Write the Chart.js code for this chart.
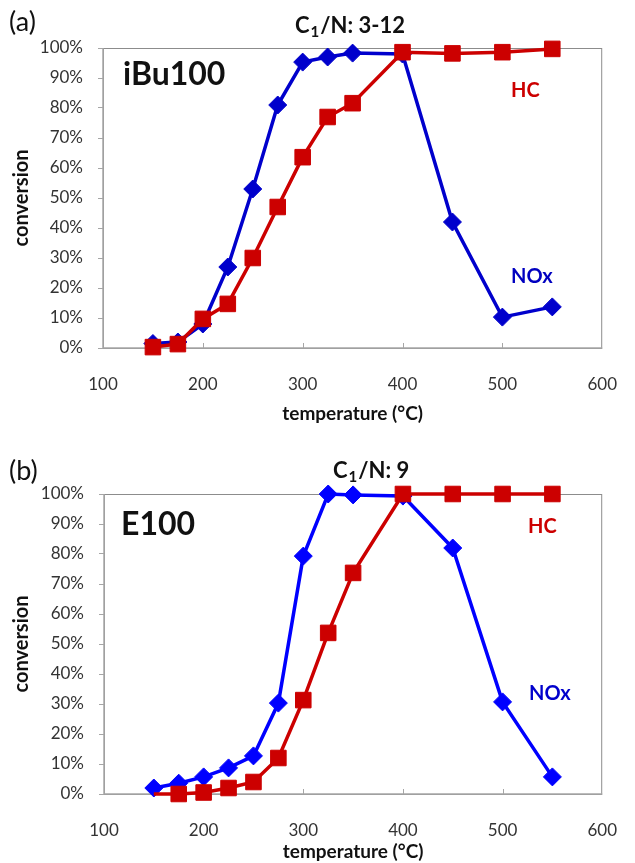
<!DOCTYPE html>
<html>
<head>
<meta charset="utf-8">
<script src="https://cdn.jsdelivr.net/npm/chart.js@4.4.1/dist/chart.umd.min.js"></script>
<style>
  html, body { margin: 0; padding: 0; background: #fff; }
  .panel { position: absolute; left: 0; width: 635px; }
  #panelA { top: 0; height: 425px; }
  #panelB { top: 430px; height: 433px; }
</style>
</head>
<body>
<div class="panel" id="panelA"><canvas id="chartA"></canvas></div>
<div class="panel" id="panelB"><canvas id="chartB"></canvas></div>
<script>
// temperatures (°C) and conversion (%)
const temps = [150, 175, 200, 225, 250, 275, 300, 325, 350, 400, 450, 500, 550];

// (a) iBu100
const noxA = [1.5, 2, 8, 27, 53, 81, 95.3, 97, 98.3, 98, 42, 10.3, 13.7];
const hcA  = [0.3, 1.3, 9.7, 14.7, 30, 47, 63.6, 77, 81.6, 98.6, 98.2, 98.6, 99.7];

// (b) E100
const noxB = [2, 3.6, 5.7, 8.7, 12.7, 30.3, 79.3, 100, 99.7, 99.3, 82, 30.7, 5.7];
const hcB  = [0, 0, 0.5, 2, 4, 12, 31.3, 53.7, 73.7, 100, 100, 100, 100];

const xTicks = [100, 200, 300, 400, 500, 600];
const yTicks = [0, 10, 20, 30, 40, 50, 60, 70, 80, 90, 100];

const RED = '#cc0000';
const FONT = 'Lato';

// frame, inward x ticks and the text annotations
const decor = {
  id: 'decor',
  beforeDatasetsDraw(chart, args, o) {
    const {ctx, chartArea: a} = chart;
    const x = chart.scales.x;
    ctx.save();
    ctx.strokeStyle = '#8c8c8c';
    ctx.lineWidth = 1;
    ctx.strokeRect(a.left + 0.5, a.top + 0.5, a.right - a.left - 1, a.bottom - a.top);
    ctx.strokeStyle = '#a6a6a6';
    ctx.lineWidth = 1.5;
    ctx.beginPath();
    ctx.moveTo(a.left, a.top);
    ctx.lineTo(a.left, a.bottom);
    ctx.lineTo(a.right, a.bottom);
    ctx.stroke();
    ctx.lineWidth = 1;
    xTicks.slice(1, -1).forEach(v => {
      const px = Math.round(x.getPixelForValue(v)) + 0.5;
      ctx.beginPath();
      ctx.moveTo(px, a.bottom);
      ctx.lineTo(px, a.bottom - 5);
      ctx.stroke();
    });
    ctx.restore();
  },
  afterDraw(chart, args, o) {
    const ctx = chart.ctx;
    ctx.save();
    ctx.textBaseline = 'alphabetic';
    ctx.textAlign = 'left';

    ctx.fillStyle = '#111';
    ctx.font = `27px ${FONT}`;
    ctx.fillText(o.panel[0], o.panel[1], o.panel[2]);

    ctx.font = `bold 32px ${FONT}`;
    ctx.fillText(o.fuel[0], o.fuel[1], o.fuel[2]);

    // C1/N with subscript
    let [rest, x, y] = o.ratio;
    ctx.font = `bold 22px ${FONT}`;
    ctx.fillText('C', x, y);
    x += ctx.measureText('C').width + 1;
    ctx.font = `bold 15px ${FONT}`;
    ctx.fillText('1', x, y + 4);
    x += ctx.measureText('1').width + 1;
    ctx.font = `bold 22px ${FONT}`;
    ctx.fillText('/N: ' + rest, x, y);

    ctx.font = `bold 20px ${FONT}`;
    o.labels.forEach(([t, c, lx, ly]) => {
      ctx.fillStyle = c;
      ctx.fillText(t, lx, ly);
    });
    ctx.restore();
  }
};

function makeChart(id, nox, hc, blue, box, deco) {
  const points = (arr) => temps.map((t, i) => ({x: t, y: arr[i]}));
  return new Chart(document.getElementById(id), {
    type: 'line',
    data: {
      datasets: [{
        label: 'HC',
        data: points(hc),
        borderColor: RED,
        backgroundColor: RED,
        borderWidth: 3.5,
        pointStyle: 'rect',
        pointRadius: ctx => (deco.hideFirst && ctx.dataIndex === 0) ? 0 : 11,
        pointBorderWidth: 1,
        clip: false
      }, {
        label: 'NOx',
        data: points(nox),
        borderColor: blue,
        backgroundColor: blue,
        borderWidth: 3.5,
        pointStyle: 'rectRot',
        pointRadius: 9,
        pointBorderWidth: 1,
        clip: false
      }]
    },
    options: {
      responsive: true,
      maintainAspectRatio: false,
      animation: false,
      events: [],
      layout: {padding: {left: 0, right: 635 - box.right, top: box.top, bottom: 0}},
      plugins: {
        legend: {display: false},
        tooltip: {enabled: false},
        decor: deco
      },
      scales: {
        x: {
          type: 'linear',
          min: 100,
          max: 600,
          afterBuildTicks: s => { s.ticks = xTicks.map(v => ({value: v})); },
          afterFit: s => { s.height = box.xh; },
          grid: {display: false},
          border: {display: false},
          ticks: {color: '#333', font: {family: FONT, size: 17}, padding: 18, maxRotation: 0},
          title: {
            display: true,
            text: 'temperature (°C)',
            color: '#111',
            font: {family: FONT, size: 19, weight: 'bold'},
            padding: {top: 0, bottom: box.tp}
          }
        },
        y: {
          min: 0,
          max: 100,
          afterBuildTicks: s => { s.ticks = yTicks.map(v => ({value: v})); },
          afterFit: s => { s.width = box.left; },
          grid: {drawOnChartArea: false, drawTicks: true, tickLength: 5, color: '#a6a6a6'},
          border: {display: false},
          ticks: {color: '#333', font: {family: FONT, size: 17}, padding: 15, callback: v => v + '%'},
          title: {
            display: true,
            text: 'conversion',
            color: '#111',
            font: {family: FONT, size: 20, weight: 'bold'},
            padding: {top: 10, bottom: 0}
          }
        }
      }
    },
    plugins: [decor]
  });
}

makeChart('chartA', noxA, hcA, '#0000cc',
  {left: 103, right: 616, top: 48, xh: 77, tp: 0},
  {
    panel: ['(a)', 9, 31],
    fuel: ['iBu100', 123, 85],
    ratio: ['3-12', 295, 33],
    labels: [['HC', RED, 511, 97], ['NOx', '#0000c0', 511, 283]]
  });

makeChart('chartB', noxB, hcB, '#0000ff',
  {left: 104, right: 617, top: 64, xh: 69, tp: 0},
  {
    hideFirst: true,
    panel: ['(b)', 9, 50],
    fuel: ['E100', 121, 105],
    ratio: ['9', 333, 48],
    labels: [['HC', RED, 528, 103], ['NOx', '#0000cc', 529, 270]]
  });
</script>
</body>
</html>
